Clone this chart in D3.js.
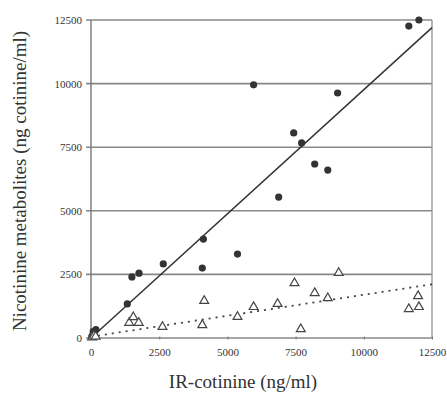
<!DOCTYPE html>
<html>
<head>
<meta charset="utf-8">
<script src="https://cdn.jsdelivr.net/npm/d3@7"></script>
<style>
  body { margin: 0; background: #fff; }
  text { font-family: "Liberation Serif", "Times New Roman", serif; fill: #333; }
</style>
</head>
<body>
<div id="chart"></div>
<script>
// IR-cotinine (x) vs nicotine metabolites (y), ng/ml
const circleX = [30, 80, 120, 180, 1330, 1500, 1760, 2650, 4080, 4120, 5370, 5960, 6880, 7430, 7720, 8200, 8680, 9040, 11650, 12020];
const circleY = [60, 250, 120, 330, 1340, 2400, 2550, 2910, 2750, 3890, 3300, 9950, 5540, 8060, 7670, 6840, 6600, 9630, 12260, 12500];

const triX = [40, 110, 170, 1400, 1550, 1750, 2620, 4080, 4150, 5370, 5960, 6840, 7460, 7690, 8200, 8680, 9080, 11650, 11990, 12020];
const triY = [30, 90, 60, 600, 820, 600, 440, 510, 1460, 830, 1220, 1340, 2160, 350, 1770, 1570, 2560, 1140, 1650, 1220];

const xTicks = [0, 2500, 5000, 7500, 10000, 12500];
const yTicks = [0, 2500, 5000, 7500, 10000, 12500];

// regression lines: y = slope * x + intercept
const solidFit = { slope: 0.976, intercept: 0 };
const dottedFit = { slope: 0.165, intercept: 50 };

const width = 447;
const height = 400;
const margin = { top: 20, right: 15, bottom: 62, left: 91 };

const x = d3.scaleLinear().domain([0, 12500]).range([margin.left, width - margin.right]);
const y = d3.scaleLinear().domain([0, 12500]).range([height - margin.bottom, margin.top]);

const svg = d3.select('#chart')
  .append('svg')
  .attr('width', width)
  .attr('height', height);

// horizontal gridlines
svg.append('g')
  .selectAll('line')
  .data(yTicks)
  .enter()
  .append('line')
  .attr('x1', x(0) - 5)
  .attr('x2', x(12500))
  .attr('y1', d => y(d))
  .attr('y2', d => y(d))
  .attr('stroke', '#888')
  .attr('stroke-width', 1.6);

// left axis and right frame
svg.append('line')
  .attr('x1', x(0)).attr('x2', x(0))
  .attr('y1', y(0)).attr('y2', y(12500))
  .attr('stroke', '#777').attr('stroke-width', 1.4);
svg.append('line')
  .attr('x1', x(12500)).attr('x2', x(12500))
  .attr('y1', y(0)).attr('y2', y(12500))
  .attr('stroke', '#999').attr('stroke-width', 1.4);

// y axis labels
const yAxis = d3.axisLeft(y).tickValues(yTicks).tickFormat(d3.format('d')).tickSize(0).tickPadding(9);
svg.append('g')
  .attr('transform', `translate(${x(0)},0)`)
  .call(yAxis)
  .call(g => g.select('.domain').remove())
  .selectAll('text')
  .style('font-size', '11px')
  .attr('fill', '#444');

// x axis labels with tiny tick marks
const xAxis = d3.axisBottom(x).tickValues(xTicks).tickFormat(d3.format('d')).tickSize(3).tickPadding(9);
svg.append('g')
  .attr('transform', `translate(0,${y(0) - 1.5})`)
  .call(xAxis)
  .call(g => g.select('.domain').remove())
  .call(g => g.selectAll('line').attr('stroke', '#777'))
  .selectAll('text')
  .style('font-size', '11px')
  .attr('fill', '#444');

// fitted lines
svg.append('line')
  .attr('x1', x(0)).attr('y1', y(solidFit.intercept))
  .attr('x2', x(12500)).attr('y2', y(solidFit.slope * 12500 + solidFit.intercept))
  .attr('stroke', '#333').attr('stroke-width', 1.5);

svg.append('line')
  .attr('x1', x(0)).attr('y1', y(dottedFit.intercept))
  .attr('x2', x(12500)).attr('y2', y(dottedFit.slope * 12500 + dottedFit.intercept))
  .attr('stroke', '#444').attr('stroke-width', 1.8)
  .attr('stroke-dasharray', '2,5');

// filled circles
svg.append('g')
  .selectAll('circle')
  .data(circleX.map((v, i) => [v, circleY[i]]))
  .enter()
  .append('circle')
  .attr('cx', d => x(d[0]))
  .attr('cy', d => y(d[1]))
  .attr('r', 3.6)
  .attr('fill', '#333');

// open triangles
const tri = d3.symbol().type(d3.symbolTriangle).size(34);
svg.append('g')
  .selectAll('path')
  .data(triX.map((v, i) => [v, triY[i]]))
  .enter()
  .append('path')
  .attr('d', tri)
  .attr('transform', d => `translate(${x(d[0])},${y(d[1])})`)
  .attr('fill', '#fff')
  .attr('stroke', '#444')
  .attr('stroke-width', 1.2);

// axis titles
svg.append('text')
  .attr('x', 243)
  .attr('y', 388)
  .attr('text-anchor', 'middle')
  .style('font-size', '19px')
  .attr('fill', '#222')
  .text('IR-cotinine (ng/ml)');

svg.append('text')
  .attr('transform', `translate(26,${(margin.top + height - margin.bottom) / 2 + 2}) rotate(-90)`)
  .attr('text-anchor', 'middle')
  .style('font-size', '19px')
  .attr('fill', '#222')
  .text('Nicotinine metabolites (ng cotinine/ml)');
</script>
</body>
</html>
